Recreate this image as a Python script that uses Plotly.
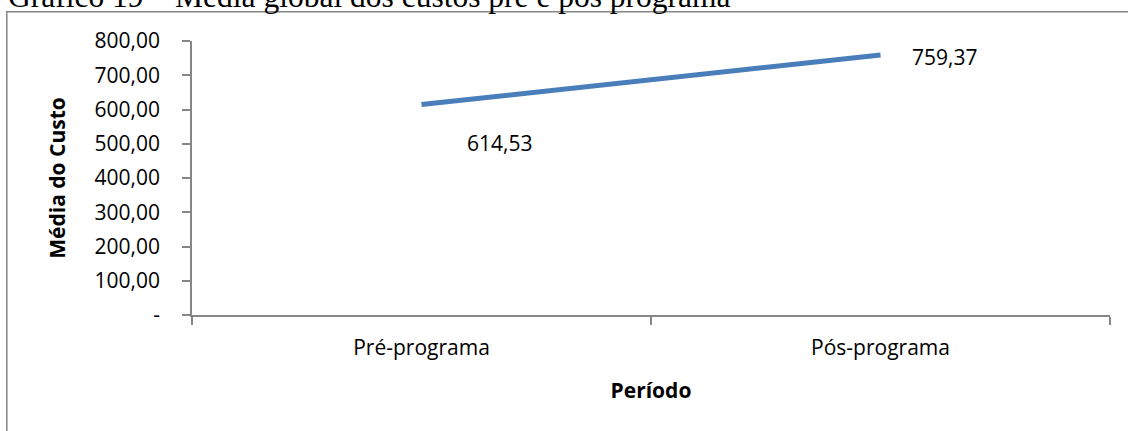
import plotly.graph_objects as go

# Average cost before and after the programme
periods = ["Pré-programa", "Pós-programa"]
mean_cost = [614.53, 759.37]
y_tick_values = [0, 100, 200, 300, 400, 500, 600, 700, 800]
y_tick_labels = ["-", "100,00", "200,00", "300,00", "400,00", "500,00", "600,00", "700,00", "800,00"]

W, H = 1128, 431
L, R, T, B = 192, 18, 41, 116
pw, ph = W - L - R, H - T - B

def px_to_paper_x(px):
    return (px - L) / pw

def px_to_paper_y(py):
    return (H - B - py) / ph

def fmt(v):
    return f"{v:.2f}".replace(".", ",")

font_main = "Open Sans, Noto Sans, sans-serif"
axis_grey = "#868686"
fs = 21

fig = go.Figure()
fig.add_trace(go.Scatter(
    x=periods, y=mean_cost, mode="lines",
    line=dict(color="#4A7EBB", width=5),
    hoverinfo="skip", showlegend=False,
))

# value labels next to each point
offsets = [(78, -38), (64, -2)]
for p, v, (dx, dy) in zip(periods, mean_cost, offsets):
    fig.add_annotation(x=p, y=v, xref="x", yref="y", text=fmt(v), showarrow=False,
                       xshift=dx, yshift=dy, font=dict(family=font_main, size=fs, color="#000"))

# outer chart frame
fig.add_shape(type="rect", xref="paper", yref="paper",
              x0=px_to_paper_x(6.8), x1=px_to_paper_x(1140),
              y0=px_to_paper_y(445), y1=px_to_paper_y(11.7),
              line=dict(color=axis_grey, width=1.5), fillcolor="rgba(0,0,0,0)", layer="below")

# caption above the frame
fig.add_annotation(x=px_to_paper_x(6), y=px_to_paper_y(16), xref="paper", yref="paper",
                   xanchor="left", yanchor="bottom", showarrow=False,
                   text="Gráfico 19 – Média global dos custos pré e pós programa",
                   font=dict(family="Liberation Serif, Times New Roman, serif", size=31.5, color="#000"))

fig.update_layout(
    width=W, height=H,
    margin=dict(l=L, r=R, t=T, b=B),
    paper_bgcolor="white", plot_bgcolor="white",
    showlegend=False,
    xaxis=dict(
        type="category", range=[-0.5, 1.5],
        showline=True, linecolor=axis_grey, linewidth=1.5,
        ticks="outside", tickson="boundaries", ticklen=8, tickcolor=axis_grey, tickwidth=1.5,
        showgrid=False, zeroline=False, ticklabelstandoff=13,
        tickfont=dict(family=font_main, size=fs, color="#000"),
        title=dict(text="<b>Período</b>", font=dict(family=font_main, size=21, color="#000"), standoff=23),
    ),
    yaxis=dict(
        range=[0, 800],
        tickvals=y_tick_values, ticktext=y_tick_labels,
        showline=True, linecolor=axis_grey, linewidth=1.5,
        ticks="outside", ticklen=8, tickcolor=axis_grey, tickwidth=1.5,
        showgrid=False, zeroline=False, ticklabelstandoff=18,
        tickfont=dict(family=font_main, size=fs, color="#000"),
        title=dict(text="<b>Média do Custo</b>", font=dict(family=font_main, size=21, color="#000"), standoff=23),
    ),
)

fig.write_html("out.html")
